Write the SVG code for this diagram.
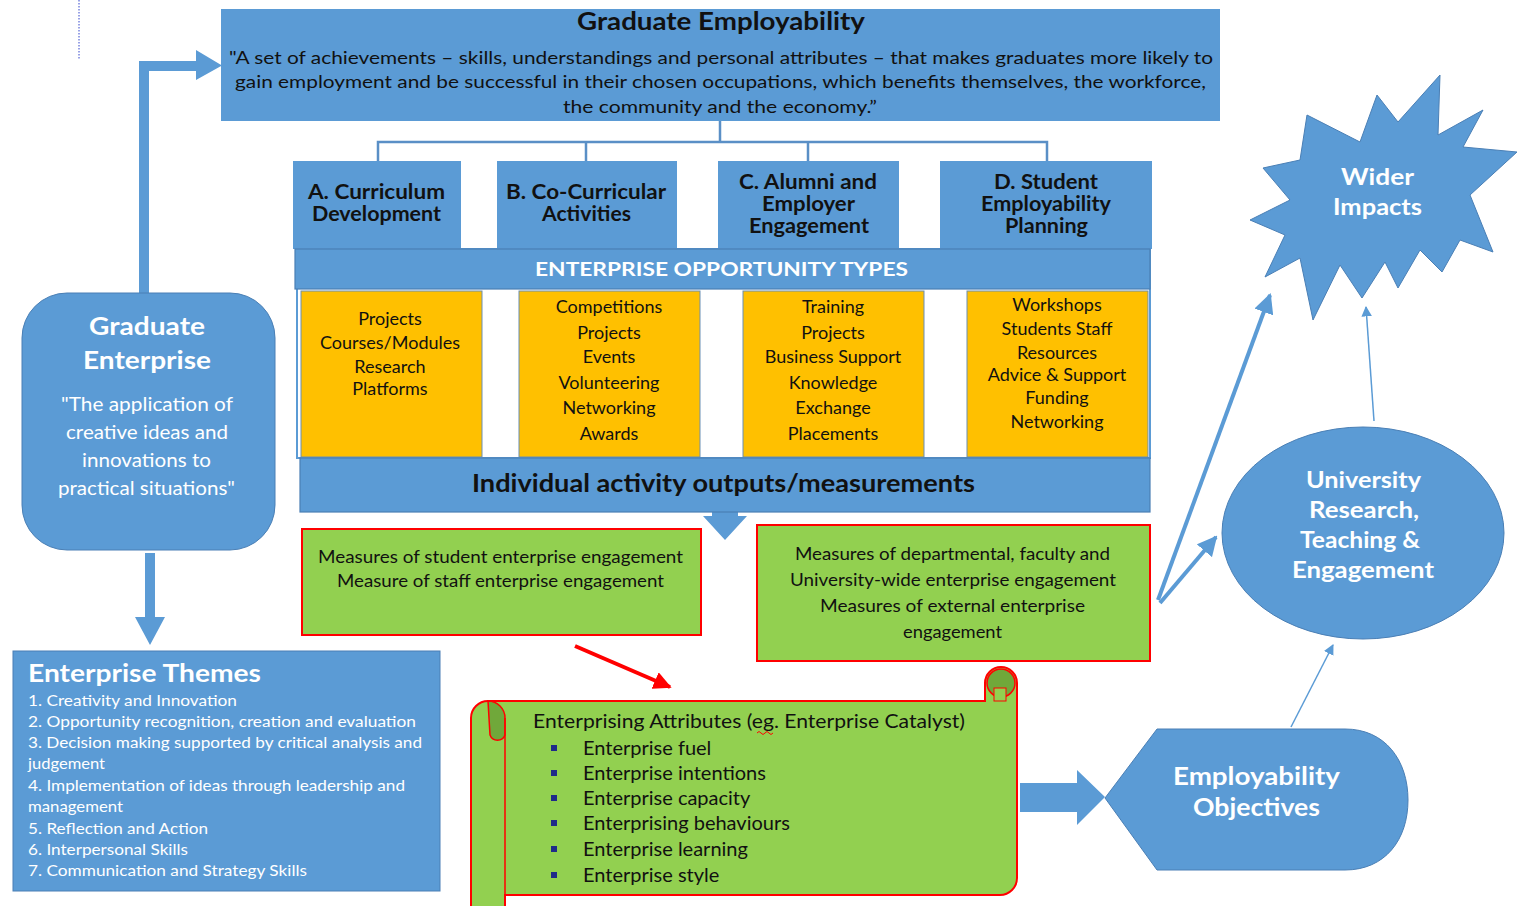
<svg xmlns="http://www.w3.org/2000/svg" width="1517" height="906" viewBox="0 0 1517 906">
<style>
.blue{fill:#5b9bd5;}
.bstroke{stroke:#4a7fb5;stroke-width:1.2;}
.t{font-family:Lato,"Liberation Sans",sans-serif;}
.dk{fill:#111;}
.wh{fill:#fff;}
.b{font-weight:bold;}
.mid{text-anchor:middle;}
.yel{fill:#ffc000;stroke:#6b8fb5;stroke-width:1;}
.grn{fill:#92d050;stroke:#ff0000;stroke-width:2;}
.conn{fill:none;stroke:#5a8fc6;stroke-width:2.5;}
</style>
<defs>
<marker id="ah" viewBox="0 0 10 10" refX="9" refY="5" markerWidth="5" markerHeight="5" orient="auto" markerUnits="strokeWidth">
<path d="M0,0 L10,5 L0,10 z" fill="#5b9bd5"/>
</marker>
<marker id="ahs" viewBox="0 0 10 10" refX="9" refY="5" markerWidth="7" markerHeight="7" orient="auto" markerUnits="strokeWidth">
<path d="M0,0 L10,5 L0,10 z" fill="#5b9bd5"/>
</marker>
<marker id="ahr" viewBox="0 0 10 10" refX="9" refY="5" markerWidth="4.5" markerHeight="4.5" orient="auto" markerUnits="strokeWidth">
<path d="M0,0 L10,5 L0,10 z" fill="#ff0000"/>
</marker>
</defs>
<rect width="1517" height="906" fill="#fff"/>
<line x1="79" y1="0" x2="79" y2="60" stroke="#3344cc" stroke-width="1" stroke-dasharray="1.5,1.5"/>

<g id="connectors">
<path class="conn" d="M720,121 V142 M378,161 V142 H1047 V161 M586,142 V161 M808,142 V161"/>
<path d="M139,293 V61 H196 V50 L222,65.5 L196,80 V71 H149 V293 z" class="blue"/>
<path d="M145,553 H155 V617 H165 L150,645 L135,617 H145 z" class="blue"/>
<path d="M712,512 H738 V516 H747 L725,540 L703,516 H712 z" class="blue"/>
<line x1="575" y1="646" x2="670" y2="687" stroke="#ff0000" stroke-width="4" marker-end="url(#ahr)"/>
<path d="M1020,783 H1077 V770 L1105,797 L1077,825 V812 H1020 z" class="blue"/>
<line x1="1158" y1="600" x2="1270" y2="295" stroke="#5b9bd5" stroke-width="4" marker-end="url(#ah)"/>
<line x1="1160" y1="603" x2="1216" y2="537" stroke="#5b9bd5" stroke-width="4" marker-end="url(#ah)"/>
<line x1="1374" y1="421" x2="1366" y2="307" stroke="#5b9bd5" stroke-width="1.5" marker-end="url(#ahs)"/>
<line x1="1291" y1="727" x2="1333" y2="645" stroke="#5b9bd5" stroke-width="1.5" marker-end="url(#ahs)"/>
</g>

<g id="graduate-employability">
<rect x="221" y="9" width="999" height="112" class="blue"/>
<text x="577" y="30" class="t b dk" font-size="24" textLength="288" lengthAdjust="spacingAndGlyphs">Graduate Employability</text>
<text x="229" y="64" class="t dk" font-size="17.5" textLength="984" lengthAdjust="spacingAndGlyphs">"A set of achievements – skills, understandings and personal attributes – that makes graduates more likely to</text>
<text x="235" y="88" class="t dk" font-size="17.5" textLength="971" lengthAdjust="spacingAndGlyphs">gain employment and be successful in their chosen occupations, which benefits themselves, the workforce,</text>
<text x="563" y="113" class="t dk" font-size="17.5" textLength="314" lengthAdjust="spacingAndGlyphs">the community and the economy.”</text>
</g>

<g id="box-a">
<rect x="293" y="161" width="168" height="88" class="blue"/>
<text x="308" y="199" class="t b dk" font-size="20" textLength="137" lengthAdjust="spacingAndGlyphs">A. Curriculum</text>
<text x="312" y="221" class="t b dk" font-size="20" textLength="129" lengthAdjust="spacingAndGlyphs">Development</text>
</g>
<g id="box-b">
<rect x="497" y="161" width="180" height="88" class="blue"/>
<text x="506" y="199" class="t b dk" font-size="20" textLength="160" lengthAdjust="spacingAndGlyphs">B. Co-Curricular</text>
<text x="542" y="221" class="t b dk" font-size="20" textLength="89" lengthAdjust="spacingAndGlyphs">Activities</text>
</g>
<g id="box-c">
<rect x="718" y="161" width="181" height="88" class="blue"/>
<text x="739" y="189" class="t b dk" font-size="20" textLength="138" lengthAdjust="spacingAndGlyphs">C. Alumni and</text>
<text x="762" y="211" class="t b dk" font-size="20" textLength="93" lengthAdjust="spacingAndGlyphs">Employer</text>
<text x="749" y="233" class="t b dk" font-size="20" textLength="120" lengthAdjust="spacingAndGlyphs">Engagement</text>
</g>
<g id="box-d">
<rect x="940" y="161" width="212" height="88" class="blue"/>
<text x="994" y="189" class="t b dk" font-size="20" textLength="104" lengthAdjust="spacingAndGlyphs">D. Student</text>
<text x="981" y="211" class="t b dk" font-size="20" textLength="130" lengthAdjust="spacingAndGlyphs">Employability</text>
<text x="1005" y="233" class="t b dk" font-size="20" textLength="83" lengthAdjust="spacingAndGlyphs">Planning</text>
</g>

<g id="opportunity-types">
<rect x="297" y="249" width="853" height="209" fill="none" stroke="#5b9bd5" stroke-width="2"/>
<rect x="295" y="249" width="855" height="40" class="blue bstroke"/>
<text x="535" y="276" class="t b wh" font-size="19" textLength="373" lengthAdjust="spacingAndGlyphs">ENTERPRISE OPPORTUNITY TYPES</text>
</g>
<g id="opp-1">
<rect x="301" y="291" width="181" height="166" class="yel"/>
<text class="t dk mid" font-size="18"><tspan x="390" y="325">Projects</tspan><tspan x="390" y="349">Courses/Modules</tspan><tspan x="390" y="373">Research</tspan><tspan x="390" y="395">Platforms</tspan></text>
</g>
<g id="opp-2">
<rect x="519" y="291" width="181" height="166" class="yel"/>
<text class="t dk mid" font-size="18"><tspan x="609" y="313">Competitions</tspan><tspan x="609" y="339">Projects</tspan><tspan x="609" y="363">Events</tspan><tspan x="609" y="389">Volunteering</tspan><tspan x="609" y="414">Networking</tspan><tspan x="609" y="440">Awards</tspan></text>
</g>
<g id="opp-3">
<rect x="743" y="291" width="181" height="166" class="yel"/>
<text class="t dk mid" font-size="18"><tspan x="833" y="313">Training</tspan><tspan x="833" y="339">Projects</tspan><tspan x="833" y="363">Business Support</tspan><tspan x="833" y="389">Knowledge</tspan><tspan x="833" y="414">Exchange</tspan><tspan x="833" y="440">Placements</tspan></text>
</g>
<g id="opp-4">
<rect x="967" y="291" width="181" height="166" class="yel"/>
<text class="t dk mid" font-size="18"><tspan x="1057" y="311">Workshops</tspan><tspan x="1057" y="335">Students Staff</tspan><tspan x="1057" y="359">Resources</tspan><tspan x="1057" y="381">Advice &amp; Support</tspan><tspan x="1057" y="404">Funding</tspan><tspan x="1057" y="428">Networking</tspan></text>
</g>

<g id="outputs">
<rect x="300" y="458" width="850" height="54" class="blue bstroke"/>
<text x="472" y="492" class="t b dk" font-size="24" textLength="503" lengthAdjust="spacingAndGlyphs">Individual activity outputs/measurements</text>
</g>

<g id="measures-student">
<rect x="302" y="529" width="399" height="106" class="grn"/>
<text x="318" y="563" class="t dk" font-size="17" textLength="365" lengthAdjust="spacingAndGlyphs">Measures of student enterprise engagement</text>
<text x="337" y="587" class="t dk" font-size="17" textLength="327" lengthAdjust="spacingAndGlyphs">Measure of staff enterprise engagement</text>
</g>
<g id="measures-university">
<rect x="757" y="525" width="393" height="136" class="grn"/>
<text x="795" y="560" class="t dk" font-size="17" textLength="315" lengthAdjust="spacingAndGlyphs">Measures of departmental, faculty and</text>
<text x="790" y="586" class="t dk" font-size="17" textLength="326" lengthAdjust="spacingAndGlyphs">University-wide enterprise engagement</text>
<text x="820" y="612" class="t dk" font-size="17" textLength="265" lengthAdjust="spacingAndGlyphs">Measures of external enterprise</text>
<text x="903" y="638" class="t dk" font-size="17" textLength="99" lengthAdjust="spacingAndGlyphs">engagement</text>
</g>

<g id="graduate-enterprise">
<rect x="22" y="293" width="253" height="257" rx="45" ry="45" class="blue" stroke="#4a7fb5" stroke-width="1"/>
<text x="89" y="335" class="t b wh" font-size="25" textLength="116" lengthAdjust="spacingAndGlyphs">Graduate</text>
<text x="83" y="369" class="t b wh" font-size="25" textLength="128" lengthAdjust="spacingAndGlyphs">Enterprise</text>
<text x="61" y="411" class="t wh" font-size="19.5" textLength="172" lengthAdjust="spacingAndGlyphs">"The application of</text>
<text x="66" y="439" class="t wh" font-size="19.5" textLength="162" lengthAdjust="spacingAndGlyphs">creative ideas and</text>
<text x="82" y="467" class="t wh" font-size="19.5" textLength="129" lengthAdjust="spacingAndGlyphs">innovations to</text>
<text x="58" y="495" class="t wh" font-size="19.5" textLength="177" lengthAdjust="spacingAndGlyphs">practical situations"</text>
</g>

<g id="enterprise-themes">
<rect x="13" y="651" width="427" height="240" class="blue" stroke="#4a7fb5" stroke-width="1"/>
<text x="28" y="682" class="t b wh" font-size="25" textLength="233" lengthAdjust="spacingAndGlyphs">Enterprise Themes</text>
<g class="t wh" font-size="16">
<text x="28" y="706" textLength="209" lengthAdjust="spacingAndGlyphs">1. Creativity and Innovation</text>
<text x="28" y="727" textLength="388" lengthAdjust="spacingAndGlyphs">2. Opportunity recognition, creation and evaluation</text>
<text x="28" y="748" textLength="394" lengthAdjust="spacingAndGlyphs">3. Decision making supported by critical analysis and</text>
<text x="28" y="769" textLength="77" lengthAdjust="spacingAndGlyphs">judgement</text>
<text x="28" y="791" textLength="377" lengthAdjust="spacingAndGlyphs">4. Implementation of ideas through leadership and</text>
<text x="28" y="812" textLength="95" lengthAdjust="spacingAndGlyphs">management</text>
<text x="28" y="834" textLength="180" lengthAdjust="spacingAndGlyphs">5. Reflection and Action</text>
<text x="28" y="855" textLength="160" lengthAdjust="spacingAndGlyphs">6. Interpersonal Skills</text>
<text x="28" y="876" textLength="279" lengthAdjust="spacingAndGlyphs">7. Communication and Strategy Skills</text>
</g>
</g>

<g id="enterprising-attributes">
<path d="M471,718 A17,17 0 0 1 488,701 H985 V683 A16,16 0 0 1 1017,683 V878 A17,17 0 0 1 1000,895 H505 V920 H471 z" class="grn"/>
<ellipse cx="1001" cy="683" rx="14" ry="14" fill="#70a83a" stroke="#ff0000" stroke-width="1.5"/>
<rect x="994" y="688" width="12" height="13" fill="#92d050" stroke="#ff0000" stroke-width="1"/>
<path d="M488,701 A17,17 0 0 1 505,718 V735 A8,8 0 0 1 490,735 z" fill="#70a83a" stroke="#ff0000" stroke-width="1.5"/>
<line x1="505" y1="718" x2="505" y2="906" stroke="#ff0000" stroke-width="1.5"/>
<text x="533" y="728" class="t dk" font-size="20" textLength="432" lengthAdjust="spacingAndGlyphs">Enterprising Attributes (eg. Enterprise Catalyst)</text>
<path d="M757,733 q2,-3 4,0 t4,0 t4,0 t4,0" fill="none" stroke="#ff0000" stroke-width="1"/>
<g fill="#1f2a8a">
<rect x="551" y="745" width="6" height="6"/><rect x="551" y="770" width="6" height="6"/><rect x="551" y="795" width="6" height="6"/><rect x="551" y="820" width="6" height="6"/><rect x="551" y="846" width="6" height="6"/><rect x="551" y="872" width="6" height="6"/>
</g>
<text class="t dk" font-size="20"><tspan x="583" y="755">Enterprise fuel</tspan><tspan x="583" y="780">Enterprise intentions</tspan><tspan x="583" y="805">Enterprise capacity</tspan><tspan x="583" y="830">Enterprising behaviours</tspan><tspan x="583" y="856">Enterprise learning</tspan><tspan x="583" y="882">Enterprise style</tspan></text>
</g>

<g id="employability-objectives">
<path d="M1105,798 L1157,729 H1345 C1385,729 1408,760 1408,800 C1408,840 1385,870 1345,870 H1157 z" class="blue" stroke="#4a7fb5" stroke-width="1"/>
<text x="1173" y="785" class="t b wh" font-size="25" textLength="167" lengthAdjust="spacingAndGlyphs">Employability</text>
<text x="1193" y="816" class="t b wh" font-size="25" textLength="127" lengthAdjust="spacingAndGlyphs">Objectives</text>
</g>

<g id="university">
<ellipse cx="1363" cy="533" rx="141" ry="106" class="blue" stroke="#4a7fb5" stroke-width="1"/>
<text x="1306" y="488" class="t b wh" font-size="23" textLength="115" lengthAdjust="spacingAndGlyphs">University</text>
<text x="1309" y="518" class="t b wh" font-size="23" textLength="110" lengthAdjust="spacingAndGlyphs">Research,</text>
<text x="1300" y="548" class="t b wh" font-size="23" textLength="120" lengthAdjust="spacingAndGlyphs">Teaching &amp;</text>
<text x="1292" y="578" class="t b wh" font-size="23" textLength="142" lengthAdjust="spacingAndGlyphs">Engagement</text>
</g>

<g id="wider-impacts">
<polygon points="1307,115 1360,142 1377,95 1398,122 1440,75 1438,135 1483,110 1463,147 1517,152 1470,195 1493,252 1460,240 1442,272 1420,250 1398,288 1385,262 1362,298 1340,265 1313,320 1300,258 1265,277 1285,235 1250,220 1290,200 1263,168 1300,160" class="blue" stroke="#4a7fb5" stroke-width="1"/>
<text x="1341" y="185" class="t b wh" font-size="22" textLength="73" lengthAdjust="spacingAndGlyphs">Wider</text>
<text x="1333" y="215" class="t b wh" font-size="22" textLength="89" lengthAdjust="spacingAndGlyphs">Impacts</text>
</g>
</svg>
